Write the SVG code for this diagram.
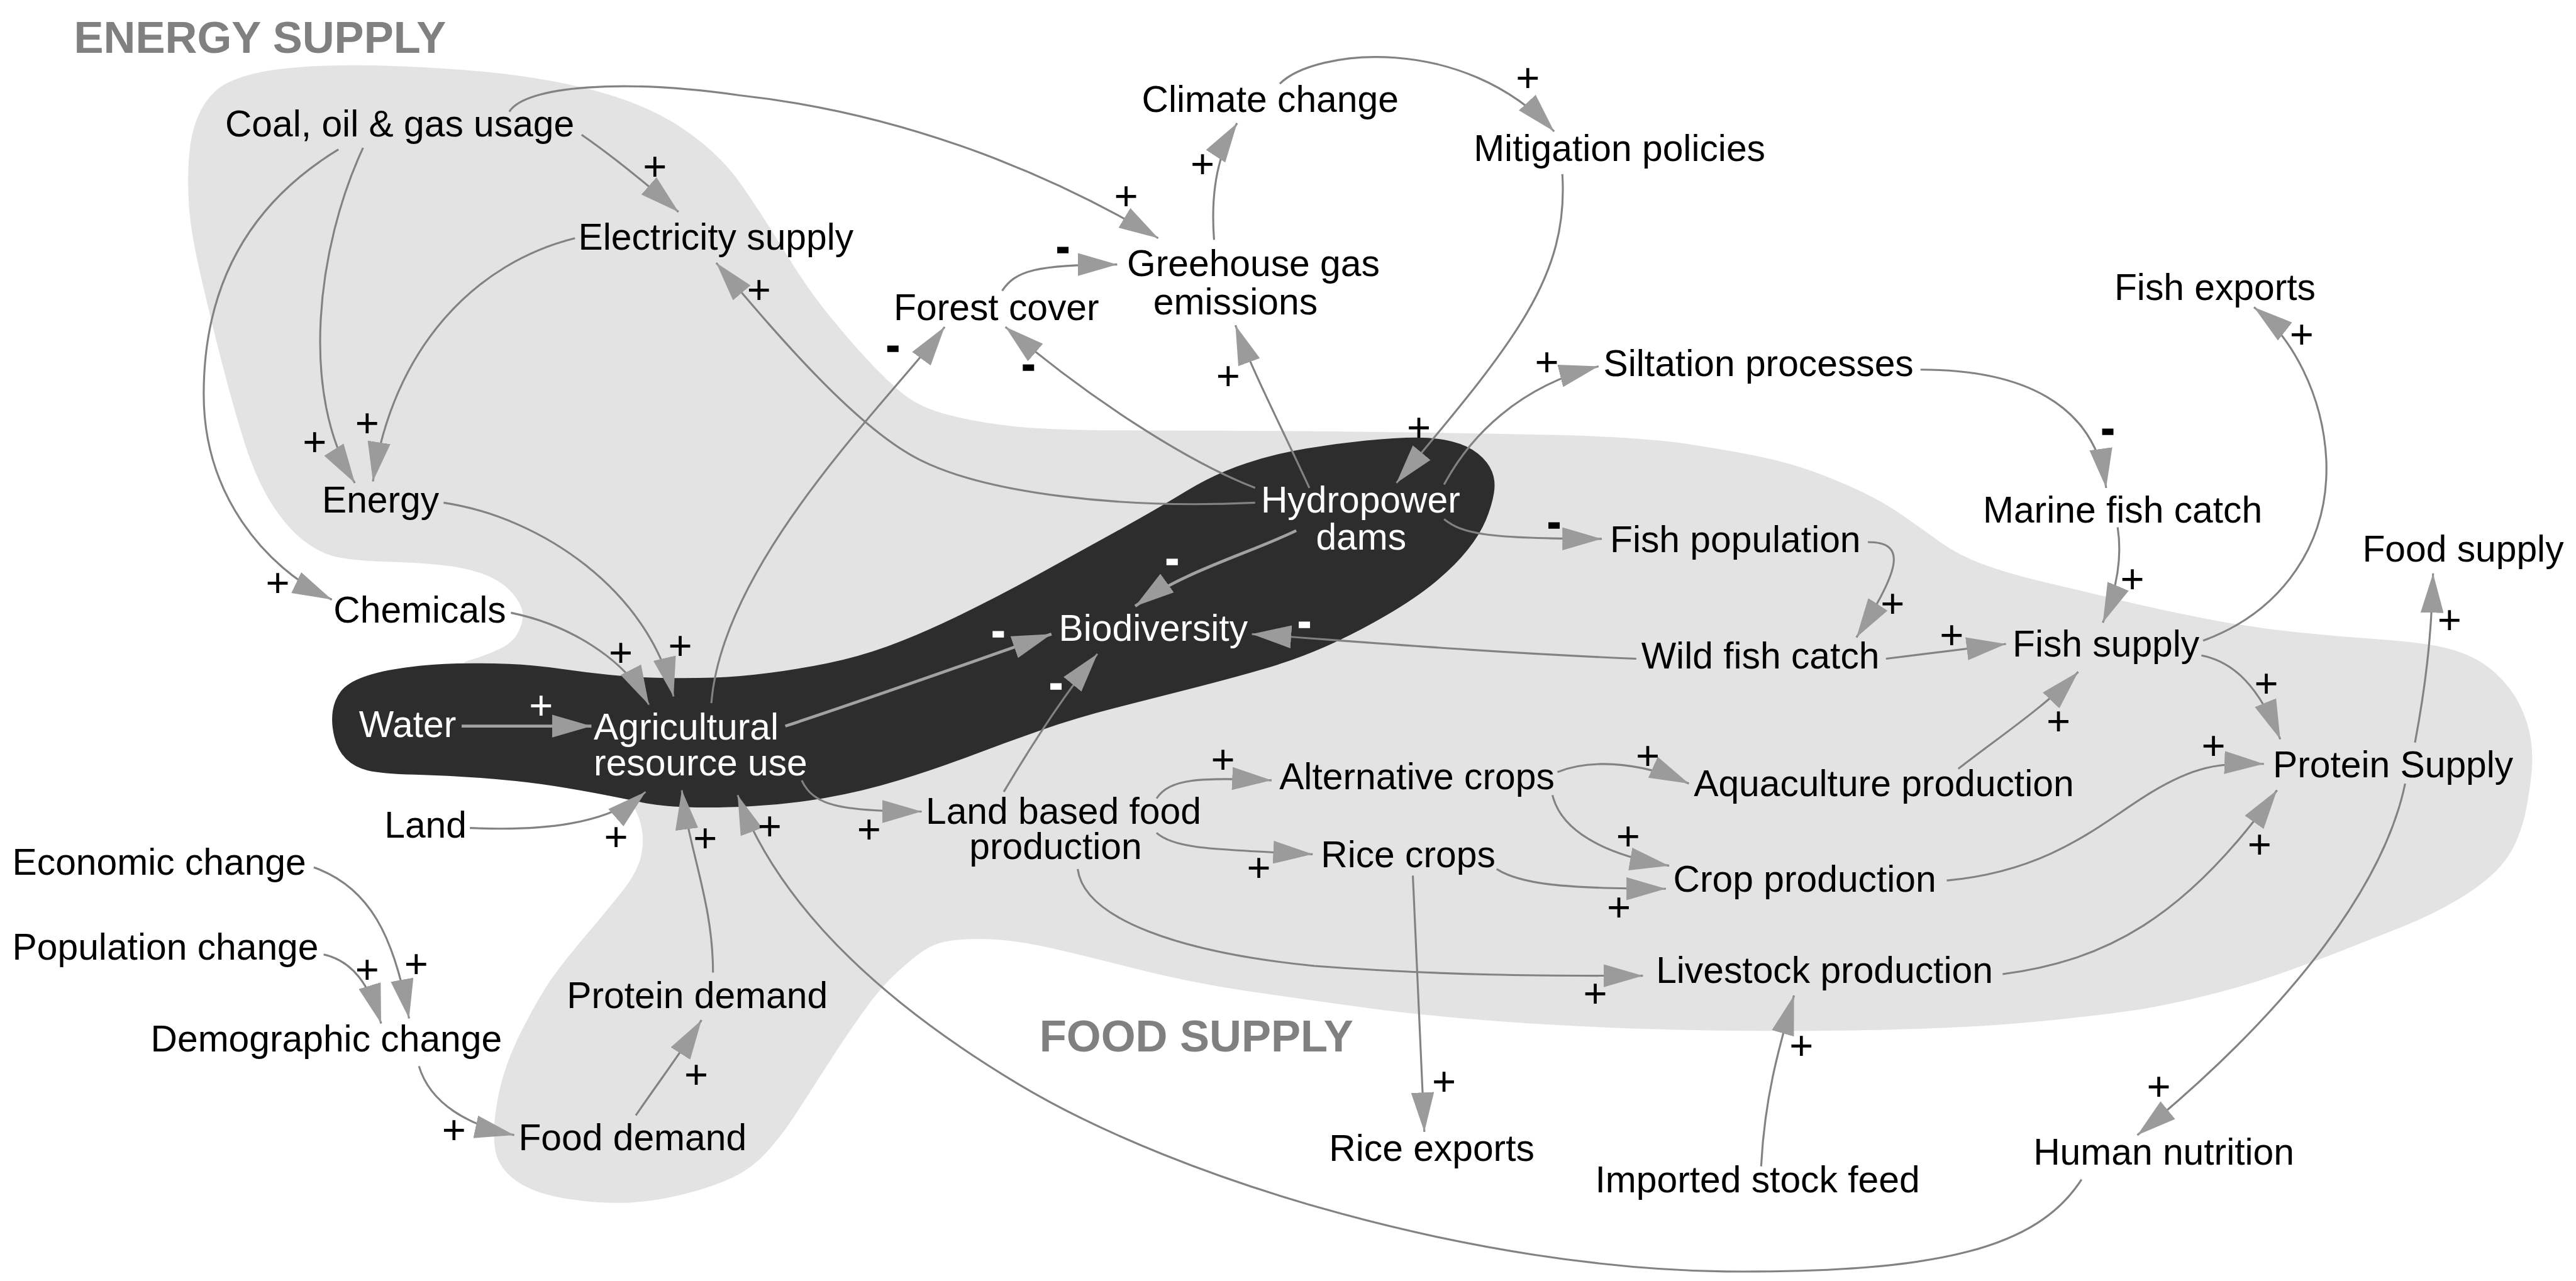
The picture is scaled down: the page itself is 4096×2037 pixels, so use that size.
<svg xmlns="http://www.w3.org/2000/svg" width="4096" height="2037" viewBox="0 0 4096 2037">
<defs>
<style>
.n{font-family:'Liberation Sans',Arial,Helvetica,sans-serif;font-size:22.5px;fill:#000}
.w{fill:#fff}
.t{font-family:'Liberation Sans',Arial,Helvetica,sans-serif;font-size:27px;font-weight:bold;fill:#808080}
.p{font-family:'Liberation Sans',Arial,Helvetica,sans-serif;font-size:25px;text-anchor:middle;fill:#000}
.m{font-family:'Liberation Sans',Arial,Helvetica,sans-serif;font-size:22px;font-weight:bold;text-anchor:middle;fill:#000;stroke:#000;stroke-width:1.3}
.mw{fill:#fff;stroke:#fff}
.pw{fill:#fff}
.th{stroke:#a2a2a2;stroke-width:1.8}
</style>
<marker id="ah" viewBox="0 0 24 14" markerUnits="userSpaceOnUse" markerWidth="24" markerHeight="14" refX="24" refY="7" orient="auto">
<path d="M0,0 L24,7 L0,14 Z" fill="#9b9b9b"/>
</marker>
</defs>
<rect width="4096" height="2037" fill="#fff"/>
<g transform="scale(2.61224)">
<g id="regions">
<path id="region-light" fill="#e3e3e3" d="M115,125 Q114,110 115,96 Q116,82 120,72 Q124,62 131,55.5 Q138,49 154,45 Q170,41 199,40 Q228,39 274,42 Q320,45 355.5,53.5 Q391,62 414.5,77.5 Q438,93 452,113.5 Q466,134 478.5,154.5 Q491,175 503.5,190.5 Q516,206 528,219 Q540,232 550,240 Q560,248 577,252.5 Q594,257 617,259.5 Q640,262 695,262 Q750,262 819,262.75 Q888,263.5 944,264.75 Q1000,266 1028.5,270.5 Q1057,275 1073.5,278.5 Q1090,282 1105,287.5 Q1120,293 1133.5,299.5 Q1147,306 1158.5,314 Q1170,322 1181,330 Q1192,338 1207,343.5 Q1222,349 1241,353.5 Q1260,358 1287,364.5 Q1314,371 1342,376.5 Q1370,382 1397.5,384.8 Q1425,387.6 1452.5,389.55 Q1480,391.5 1494.5,396.05 Q1509,400.6 1519,409.8 Q1529,419 1534,429.5 Q1539,440 1540.5,450 Q1542,460 1541,470 Q1540,480 1538,491 Q1536,502 1531.5,512.5 Q1527,523 1518,531.5 Q1509,540 1495,548.3 Q1481,556.6 1462.5,564.05 Q1444,571.5 1425.5,578.75 Q1407,586 1388.5,592.5 Q1370,599 1351,604 Q1332,609 1311,613 Q1290,617 1239,622 Q1188,627 1102.5,627.5 Q1017,628 948.5,624 Q880,620 835.5,614 Q791,608 757.5,603 Q724,598 690.5,589.5 Q657,581 640,577.2 Q623,573.4 610,572.2 Q597,571 584.5,572 Q572,573 565,577 Q558,581 547,591 Q536,601 525,616.5 Q514,632 502.5,650 Q491,668 483.5,679.5 Q476,691 467,701 Q458,711 446.5,716.5 Q435,722 418,726.5 Q401,731 384.5,732 Q368,733 347,730 Q326,727 314.5,719 Q303,711 301.25,699 Q299.5,687 303.25,667.5 Q307,648 318,626.5 Q329,605 337,594 Q345,583 356.5,569.5 Q368,556 378,543.5 Q388,531 390.25,521 Q392.5,511 389.75,500.5 Q387,490 373.5,475 Q360,460 330,445 Q300,430 287.5,417.5 Q275,405 285.5,402 Q296,399 304.25,395 Q312.5,391 315.6,384.5 Q318.7,378 318.15,373 Q317.6,368 311.8,361 Q306,354 295,349.75 Q284,345.5 268.5,343.95 Q253,342.4 234.5,341.85 Q216,341.3 205.5,339.15 Q195,337 184.75,329 Q174.5,321 165.25,306.5 Q156,292 148.8,269.3 Q141.6,246.6 133.8,215.8 Q126,185 121,162.5 Q116,140 115,125 Z"/>
<path id="region-dark" fill="#2d2d2d" d="M203.45,448.35 Q201.5,440 202.5,433 Q203.5,426 207.55,420.75 Q211.6,415.5 221.8,411.9 Q232,408.3 247.5,406.25 Q263,404.2 278.5,403.85 Q294,403.5 309.5,404.15 Q325,404.8 340.5,407.05 Q356,409.3 371.5,410.85 Q387,412.4 403.5,412.7 Q420,413 435,412.5 Q450,412 467.5,409.75 Q485,407.5 503.5,403.75 Q522,400 540,393.5 Q558,387 582,375.5 Q606,364 630.5,350.5 Q655,337 679.5,323.5 Q704,310 722,299 Q740,288 758.5,282 Q777,276 795,273 Q813,270 831.5,268.15 Q850,266.3 862,266.3 Q874,266.3 883.75,268.75 Q893.5,271.2 899.6,276.1 Q905.7,281 908.15,287 Q910.6,293 909.3,300.5 Q908,308 904.5,316.5 Q901,325 893.5,334.5 Q886,344 874,354 Q862,364 843.5,374.8 Q825,385.6 807,393.5 Q789,401.4 770.5,406.85 Q752,412.3 728,418.4 Q704,424.5 679.5,430.75 Q655,437 633.5,444.5 Q612,452 591,460 Q570,468 547.5,474.9 Q525,481.8 502.5,485.7 Q480,489.6 457.5,490.8 Q435,492 418.25,491.35 Q401.5,490.7 390.25,488.35 Q379,486 362,482.75 Q345,479.5 329.75,477.35 Q314.5,475.2 293.75,473.6 Q273,472 252.5,471.5 Q232,471 223.85,469 Q215.7,467 210.55,461.85 Q205.4,456.7 203.45,448.35 Z"/>
</g>
<g id="region-titles">
<text class="t" x="45" y="32">ENERGY SUPPLY</text>
<text class="t" x="632.7" y="640">FOOD SUPPLY</text>
</g>
<g id="connectors" fill="none" stroke="#828282" stroke-width="1.2" marker-end="url(#ah)">
<path id="c-coal-elec" d="M354,82 Q380,100 413,129"/>
<path id="c-coal-energy" d="M221,90 C193,150 182,240 216,294"/>
<path id="c-coal-chem" d="M206,91 C150,125 124,175 124,240 C124,300 160,345 202,365"/>
<path id="c-elec-energy" d="M350,145 C290,160 240,210 227,293"/>
<path id="c-coal-ghg" d="M310,68 C320,52 380,48 450,58 C560,70 650,112 705,145"/>
<path id="c-ghg-climate" d="M739,146 C737,120 740,95 753,75"/>
<path id="c-climate-mitig" d="M779,51 C800,30 890,20 946,80"/>
<path id="c-mitig-hydro" d="M951,106 C955,170 920,210 850,294"/>
<path id="c-hydro-elec" d="M764,306 C680,310 600,300 560,280 C520,260 470,200 436,160"/>
<path id="c-hydro-forest" d="M764,297 C720,280 660,240 612,199"/>
<path id="c-hydro-ghg" d="M797,297 C780,260 762,225 752,198"/>
<path id="c-hydro-silt" d="M879,295 C895,265 925,235 973,223"/>
<path id="c-hydro-fishpop" d="M879,316 C890,325 905,328 975,328"/>
<path id="c-hydro-bio" class="th" d="M789,323 C760,337 720,348 691,369"/>
<path id="c-agri-forest" d="M433,428 C440,340 545,240 575,199"/>
<path id="c-forest-ghg" d="M610,177 C618,165 630,161 680,161"/>
<path id="c-agri-bio" class="th" d="M478,442 C530,425 600,400 640,386"/>
<path id="c-wild-bio" d="M996,401 C900,397 820,390 762,386"/>
<path id="c-land-bio" d="M611,482 C630,450 650,420 668,398"/>
<path id="c-water-agri" class="th" d="M281,442 L360,442"/>
<path id="c-chem-agri" d="M311,373 C345,380 380,400 395,429"/>
<path id="c-energy-agri" d="M270,306 C330,315 395,360 410,424"/>
<path id="c-land-agri" d="M286,504 C330,506 370,502 393,482"/>
<path id="c-protdem-agri" d="M434,592 C434,550 420,520 415,481"/>
<path id="c-human-agri" d="M1267,718 C1240,760 1180,775 1050,774 C900,772 720,720 620,660 C520,600 470,540 449,484"/>
<path id="c-agri-landbased" d="M488,475 C495,490 510,494 561,494"/>
<path id="c-econ-demo" d="M191,528 C225,540 240,570 249,620"/>
<path id="c-pop-demo" d="M197,581 C215,585 225,600 232,623"/>
<path id="c-demo-fooddem" d="M255,649 C262,672 285,685 313,691"/>
<path id="c-fooddem-protdem" d="M387,679 C400,660 415,640 427,621"/>
<path id="c-lb-alt" d="M704,486 C712,474 730,473 774,475"/>
<path id="c-lb-rice" d="M704,507 C715,517 740,517 799,520"/>
<path id="c-alt-aqua" d="M948,470 C965,463 995,462 1028,477"/>
<path id="c-alt-crop" d="M945,484 C950,505 975,520 1016,527"/>
<path id="c-rice-crop" d="M911,529 C925,538 950,541 1014,541"/>
<path id="c-rice-exports" d="M860,533 L867,689"/>
<path id="c-lb-livestock" d="M656,529 C660,560 720,580 800,588 C880,594 940,594 1000,594"/>
<path id="c-feed-livestock" d="M1072,710 C1074,670 1082,640 1092,606"/>
<path id="c-crop-protein" d="M1185,536 C1250,530 1280,500 1310,482 C1335,467 1350,464 1378,465"/>
<path id="c-livestock-protein" d="M1219,593 C1280,585 1330,560 1386,481"/>
<path id="c-fish-protein" d="M1340,399 C1360,403 1375,418 1388,450"/>
<path id="c-fish-exports" d="M1341,390 C1390,372 1418,330 1416,280 C1414,240 1395,205 1372,187"/>
<path id="c-silt-marine" d="M1169,225 C1230,225 1275,245 1282,297"/>
<path id="c-marine-fish" d="M1289,321 C1292,340 1288,360 1280,379"/>
<path id="c-fishpop-wild" d="M1137,330 C1160,330 1158,345 1130,388"/>
<path id="c-wild-fish" d="M1148,401 L1221,392"/>
<path id="c-aqua-fish" d="M1192,468 C1215,450 1245,430 1265,409"/>
<path id="c-protein-food" d="M1470,452 C1476,420 1480,390 1481,349"/>
<path id="c-protein-human" d="M1464,477 C1452,535 1400,610 1301,691"/>
</g>
<g id="link-signs">
<text class="p" x="398.6" y="109.9">+</text>
<text class="p" x="223.5" y="265.9">+</text>
<text class="p" x="191.5" y="277.6">+</text>
<text class="p" x="462" y="184.9">+</text>
<text class="p" x="930" y="55.9">+</text>
<text class="p" x="732" y="108.3">+</text>
<text class="p" x="685.5" y="127.7">+</text>
<text class="p" x="747.6" y="237.5">+</text>
<text class="p" x="941.6" y="228.8">+</text>
<text class="p" x="863.7" y="268.7">+</text>
<text class="p" x="1401" y="211.9">+</text>
<text class="p" x="1298" y="360.9">+</text>
<text class="p" x="1152" y="375.9">+</text>
<text class="p" x="1188" y="394.9">+</text>
<text class="p" x="1491" y="385.9">+</text>
<text class="p" x="1379.5" y="424.7">+</text>
<text class="p" x="1253" y="447.7">+</text>
<text class="p" x="1347.3" y="462.4">+</text>
<text class="p" x="169" y="363.4">+</text>
<text class="p" x="377.9" y="405.9">+</text>
<text class="p" x="414" y="401.4">+</text>
<text class="p pw" x="329.3" y="437.9">+</text>
<text class="p" x="375" y="517.9">+</text>
<text class="p" x="429.3" y="518.9">+</text>
<text class="p" x="468.5" y="511.3">+</text>
<text class="p" x="529" y="513.5">+</text>
<text class="p" x="744.4" y="470.9">+</text>
<text class="p" x="766.2" y="536.6">+</text>
<text class="p" x="223.5" y="598.6">+</text>
<text class="p" x="253.4" y="595.2">+</text>
<text class="p" x="276.3" y="696.2">+</text>
<text class="p" x="423.8" y="662.5">+</text>
<text class="p" x="1003" y="468.7">+</text>
<text class="p" x="991" y="517.4">+</text>
<text class="p" x="985.4" y="560.7">+</text>
<text class="p" x="1375.4" y="522.4">+</text>
<text class="p" x="971" y="613.4">+</text>
<text class="p" x="1096.5" y="645.2">+</text>
<text class="p" x="879" y="666.9">+</text>
<text class="p" x="1314" y="669.9">+</text>
<text class="m" x="647" y="158.2">-</text>
<text class="m" x="543.5" y="218.3">-</text>
<text class="m" x="626" y="229.8">-</text>
<text class="m" x="946" y="325.8">-</text>
<text class="m" x="1283" y="268.8">-</text>
<text class="m mw" x="713.5" y="347.8">-</text>
<text class="m mw" x="794" y="386.1">-</text>
<text class="m mw" x="607.6" y="392">-</text>
<text class="m mw" x="642.8" y="423.8">-</text>
</g>
<g id="n-coal"><text class="n" x="137" y="83">Coal, oil &amp; gas usage</text></g>
<g id="n-electricity"><text class="n" x="352" y="152">Electricity supply</text></g>
<g id="n-energy"><text class="n" x="196" y="312">Energy</text></g>
<g id="n-chemicals"><text class="n" x="203" y="379">Chemicals</text></g>
<g id="n-climate"><text class="n" x="695" y="68">Climate change</text></g>
<g id="n-mitigation"><text class="n" x="897" y="98">Mitigation policies</text></g>
<g id="n-ghg"><text class="n"><tspan x="686" y="168">Greehouse gas</tspan><tspan x="702" y="191.5">emissions</tspan></text></g>
<g id="n-forest"><text class="n" x="544" y="195">Forest cover</text></g>
<g id="n-hydropower"><text class="n w"><tspan x="767.5" y="312">Hydropower</tspan><tspan x="801" y="334.5">dams</tspan></text></g>
<g id="n-siltation"><text class="n" x="976" y="229">Siltation processes</text></g>
<g id="n-fish-exports"><text class="n" x="1287" y="182.5">Fish exports</text></g>
<g id="n-marine"><text class="n" x="1207" y="318">Marine fish catch</text></g>
<g id="n-food-supply"><text class="n" x="1438" y="342">Food supply</text></g>
<g id="n-fish-population"><text class="n" x="980" y="336">Fish population</text></g>
<g id="n-biodiversity"><text class="n w" x="644.5" y="390">Biodiversity</text></g>
<g id="n-water"><text class="n w" x="218.5" y="448.5">Water</text></g>
<g id="n-agri"><text class="n w"><tspan x="361.4" y="450">Agricultural</tspan><tspan x="361.4" y="472">resource use</tspan></text></g>
<g id="n-wild-fish"><text class="n" x="999" y="407">Wild fish catch</text></g>
<g id="n-fish-supply"><text class="n" x="1225" y="399.5">Fish supply</text></g>
<g id="n-land"><text class="n" x="234" y="510">Land</text></g>
<g id="n-land-based"><text class="n"><tspan x="563.5" y="501.5">Land based food</tspan><tspan x="590" y="523">production</tspan></text></g>
<g id="n-alt-crops"><text class="n" x="778.7" y="480.6">Alternative crops</text></g>
<g id="n-rice-crops"><text class="n" x="804" y="528">Rice crops</text></g>
<g id="n-aquaculture"><text class="n" x="1031" y="484.6">Aquaculture production</text></g>
<g id="n-crop-production"><text class="n" x="1018.5" y="543">Crop production</text></g>
<g id="n-protein-supply"><text class="n" x="1383.5" y="473">Protein Supply</text></g>
<g id="n-livestock"><text class="n" x="1008" y="598.4">Livestock production</text></g>
<g id="n-economic"><text class="n" x="7.5" y="532.5">Economic change</text></g>
<g id="n-population"><text class="n" x="7.5" y="584">Population change</text></g>
<g id="n-demographic"><text class="n" x="91.7" y="640">Demographic change</text></g>
<g id="n-protein-demand"><text class="n" x="345" y="613.6">Protein demand</text></g>
<g id="n-food-demand"><text class="n" x="315.6" y="700">Food demand</text></g>
<g id="n-rice-exports"><text class="n" x="809" y="706.7">Rice exports</text></g>
<g id="n-stock-feed"><text class="n" x="971" y="726">Imported stock feed</text></g>
<g id="n-human-nutrition"><text class="n" x="1237.7" y="708.8">Human nutrition</text></g>
</g>
</svg>
